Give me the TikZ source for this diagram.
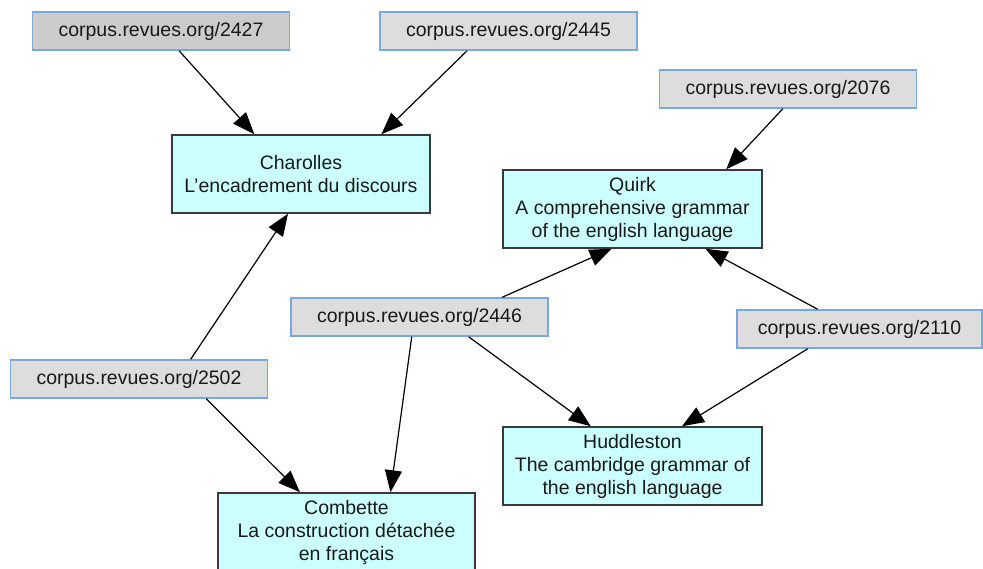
\documentclass[tikz,border=0pt]{standalone}
\usepackage{fontspec}
\setmainfont{Liberation Sans}
\usetikzlibrary{arrows.meta, calc}

\definecolor{linkfill}{HTML}{DDDDDD}
\definecolor{linkdark}{HTML}{CCCCCC}
\definecolor{linkline}{HTML}{7BA7E0}
\definecolor{bookfill}{HTML}{CCFFFF}
\definecolor{bookline}{HTML}{3A3A3A}

\begin{document}
\begin{tikzpicture}[
      x=1pt, y=-1pt,
      link/.style = {
          draw=linkline,
          fill=linkfill,
          line width=1.5pt,
          inner sep=0pt,
          minimum width=257pt,
          minimum height=38pt,
          text=black!90,
          font=\fontsize{19.5}{23}\selectfont,
        },
      book/.style = {
          draw=bookline,
          fill=bookfill,
          line width=1.5pt,
          inner sep=0pt,
          align=center,
          minimum width=258pt,
          minimum height=78pt,
          text=black!90,
          font=\fontsize{19.5}{23}\selectfont,
        },
      cite/.style = {
          line width=1.2pt,
          -{Triangle[length=22pt, width=17pt]},
        },
    ]

    \useasboundingbox (0,0) rectangle (983,569);

    \node[link, fill=linkdark](l2427) at (161,31) {corpus.revues.org/2427};
    \node[link](l2445) at (508.5,31) {corpus.revues.org/2445};
    \node[link](l2076) at (788,89) {corpus.revues.org/2076};
    \node[link](l2446) at (419.5,317) {corpus.revues.org/2446};
    \node[link, minimum width=245pt](l2110) at (859.5,329) {corpus.revues.org/2110};
    \node[link](l2502) at (139,379) {corpus.revues.org/2502};

    \node[book](charolles) at (301,174) {Charolles\\L'encadrement du discours};
    \node[book, minimum width=259pt](quirk) at (632.5,209)
      {Quirk\\A comprehensive grammar\\ of the english language};
    \node[book, minimum width=259pt](huddleston) at (632.5,466)
      {Huddleston\\The cambridge grammar of\\the english language};
    \node[book, minimum width=257pt](combette) at (346.5,532)
      {Combette\\La construction détachée\\en français};

    \draw[cite]($(l2427.south west)!.57!(l2427.south east)$)
      -- ($(charolles.north west)!.32!(charolles.north east)$);
    \draw[cite]($(l2445.south west)!.34!(l2445.south east)$)
      -- ($(charolles.north west)!.81!(charolles.north east)$);
    \draw[cite]($(l2076.south west)!.48!(l2076.south east)$)
      -- ($(quirk.north west)!.86!(quirk.north east)$);
    \draw[cite]($(l2502.north west)!.70!(l2502.north east)$)
      -- ($(charolles.south west)!.45!(charolles.south east)$);
    \draw[cite]($(l2502.south west)!.76!(l2502.south east)$)
      -- ($(combette.north west)!.32!(combette.north east)$);
    \draw[cite]($(l2446.north west)!.82!(l2446.north east)$)
      -- ($(quirk.south west)!.42!(quirk.south east)$);
    \draw[cite]($(l2446.south west)!.47!(l2446.south east)$)
      -- ($(combette.north west)!.67!(combette.north east)$);
    \draw[cite]($(l2446.south west)!.69!(l2446.south east)$)
      -- ($(huddleston.north west)!.34!(huddleston.north east)$);
    \draw[cite]($(l2110.north west)!.33!(l2110.north east)$)
      -- ($(quirk.south west)!.78!(quirk.south east)$);
    \draw[cite]($(l2110.south west)!.29!(l2110.south east)$)
      -- ($(huddleston.north west)!.69!(huddleston.north east)$);

  \end{tikzpicture}
\end{document}
